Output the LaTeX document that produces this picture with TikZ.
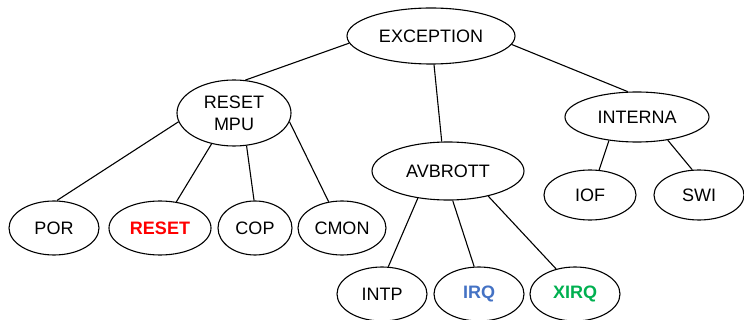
\documentclass[tikz,border=0pt]{standalone}
\usepackage{fontspec}
\setmainfont{Liberation Sans}
\usetikzlibrary{shapes.geometric}
\definecolor{rred}{RGB}{255,0,0}
\definecolor{iblue}{RGB}{68,114,196}
\definecolor{xgreen}{RGB}{0,176,80}
\begin{document}
\begin{tikzpicture}[x=1pt,y=-1pt,
  ell/.style={ellipse,draw,line width=1.1pt,inner sep=0pt,font=\fontsize{18}{22}\selectfont,align=center},
  conn/.style={line width=1.1pt}]
\useasboundingbox (0,0) rectangle (744,320);
\node[ell,minimum width=168,minimum height=56] (exc) at (431,36) {EXCEPTION};
\node[ell,minimum width=114,minimum height=66] (rm) at (234,113) {RESET\\MPU};
\node[ell,minimum width=152,minimum height=58] (av) at (448,171) {AVBROTT};
\node[ell,minimum width=144,minimum height=50] (in) at (637,117) {INTERNA};
\node[ell,minimum width=90,minimum height=54] (por) at (54,228) {POR};
\node[ell,minimum width=102,minimum height=54,text=rred,font=\fontsize{18}{22}\selectfont\bfseries] (rst) at (160,228) {RESET};
\node[ell,minimum width=74,minimum height=54] (cop) at (255,228) {COP};
\node[ell,minimum width=88,minimum height=54] (cmon) at (342,228) {CMON};
\node[ell,minimum width=92,minimum height=50] (iof) at (590,195) {IOF};
\node[ell,minimum width=90,minimum height=50] (swi) at (699,195) {SWI};
\node[ell,minimum width=90,minimum height=54] (intp) at (382,294) {INTP};
\node[ell,minimum width=90,minimum height=54,text=iblue,font=\fontsize{18}{22}\selectfont\bfseries] (irq) at (479,294) {IRQ};
\node[ell,minimum width=90,minimum height=54,text=xgreen,font=\fontsize{18}{22}\selectfont\bfseries] (xirq) at (575,294) {XIRQ};
\draw[conn] (exc.185) -- (rm.71);
\draw[conn] (exc.276) -- (av.102);
\draw[conn] (exc.354) -- (in.110);
\draw[conn] (in.220) -- (iof.70);
\draw[conn] (in.323) -- (swi.105);
\draw[conn] (rm.189) -- (por.84);
\draw[conn] (rm.234) -- (rst.58);
\draw[conn] (rm.291) -- (cop.92);
\draw[conn] (rm.351) -- (cmon.117);
\draw[conn] (av.222) -- (intp.77);
\draw[conn] (av.279) -- (irq.100);
\draw[conn] (av.328) -- (xirq.127);
\end{tikzpicture}
\end{document}
